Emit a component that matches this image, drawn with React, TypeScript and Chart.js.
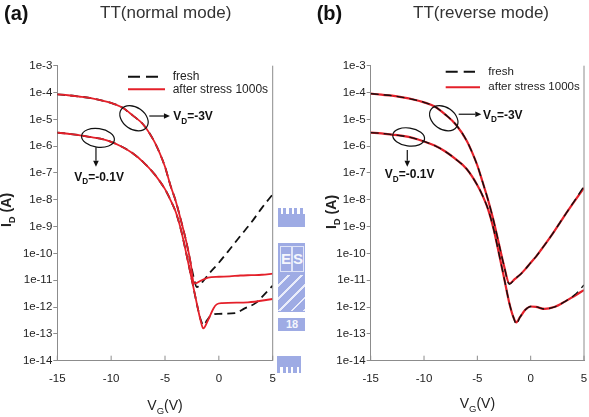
import React, { useEffect, useRef } from 'react';
import { Chart, registerables } from 'chart.js';

Chart.register(...registerables);

const FONT = "'Liberation Sans', Arial, Helvetica, sans-serif";
const RED = '#e4202a';
const DASH = '#111111';
const AXIS = '#8c8c8c';
const TEXT = '#222222';
const LOGO = '#9eabe4';

// ---------- axis ticks ----------
const xTickValues = [-15, -10, -5, 0, 5];
const xTickLabels = ['-15', '-10', '-5', '0', '5'];
const yTickValues = [1e-3, 1e-4, 1e-5, 1e-6, 1e-7, 1e-8, 1e-9, 1e-10, 1e-11, 1e-12, 1e-13, 1e-14];
const yTickLabels = ['1e-3', '1e-4', '1e-5', '1e-6', '1e-7', '1e-8', '1e-9', '1e-10', '1e-11', '1e-12', '1e-13', '1e-14'];

const legendLabels = ['fresh', 'after stress 1000s'];

// ---------- (a) TT normal mode ----------
const normVg3Fresh = [-15, -14, -13, -12, -11, -10, -9, -8, -7, -6, -5.5, -5, -4.5, -4, -3.5, -3, -2.6, -2.3, -2.05, -1.5, -1, 0, 1, 2, 3, 4, 5];
const normId3Fresh = [8.5e-5, 7.9e-5, 7.1e-5, 6.3e-5, 5.2e-5, 4.1e-5, 2.8e-5, 1.4e-5, 6.3e-6, 1.5e-6, 5.6e-7, 1.7e-7, 3.5e-8, 8.9e-9, 1.6e-9, 2.5e-10, 4.0e-11, 1.1e-11, 5.6e-12, 8.9e-12, 1.6e-11, 4.5e-11, 1.4e-10, 4.5e-10, 1.4e-9, 5.0e-9, 1.6e-8];
const normVg3Stress = [-15, -14, -13, -12, -11, -10, -9, -8, -7, -6, -5.5, -5, -4.5, -4, -3.5, -3, -2.6, -2.35, -2.2, -1.6, -1, 0, 1, 2, 3, 4, 5];
const normId3Stress = [8.5e-5, 7.9e-5, 7.1e-5, 6.3e-5, 5.2e-5, 4.1e-5, 2.8e-5, 1.4e-5, 6.3e-6, 1.5e-6, 5.6e-7, 1.7e-7, 3.5e-8, 8.9e-9, 1.6e-9, 2.5e-10, 4.0e-11, 8.3e-12, 7.6e-12, 1.0e-11, 1.26e-11, 1.35e-11, 1.4e-11, 1.5e-11, 1.55e-11, 1.6e-11, 1.75e-11];
const normVg01Fresh = [-15, -14, -13, -12, -11, -10, -9, -8, -7, -6, -5.5, -5, -4.5, -4, -3.5, -3, -2.5, -2, -1.7, -1.4, -1.1, -0.7, 0, 1.5, 2.4, 3.4, 4.3, 5];
const normId01Fresh = [3.2e-6, 2.9e-6, 2.6e-6, 2.2e-6, 1.9e-6, 1.45e-6, 9.5e-7, 5.4e-7, 2.5e-7, 9.3e-8, 5.0e-8, 2.5e-8, 1.0e-8, 3.5e-9, 7.1e-10, 8.9e-11, 1.0e-11, 1.1e-12, 3.5e-13, 2.1e-13, 3.2e-13, 5.0e-13, 5.6e-13, 5.9e-13, 8.9e-13, 1.4e-12, 3.2e-12, 6.3e-12];
const normVg01Stress = [-15, -14, -13, -12, -11, -10, -9, -8, -7, -6, -5.5, -5, -4.5, -4, -3.5, -3, -2.5, -2, -1.7, -1.45, -1.0, -0.5, -0.2, 0.3, 2.7, 5];
const normId01Stress = [3.2e-6, 2.9e-6, 2.6e-6, 2.2e-6, 1.9e-6, 1.45e-6, 9.5e-7, 5.4e-7, 2.5e-7, 9.3e-8, 5.0e-8, 2.5e-8, 1.0e-8, 3.5e-9, 7.1e-10, 8.9e-11, 1.0e-11, 1.1e-12, 3.2e-13, 1.6e-13, 3.3e-13, 8.9e-13, 1.26e-12, 1.4e-12, 1.5e-12, 2.0e-12];

// ---------- (b) TT reverse mode ----------
const revVg3Fresh = [-15, -14, -13, -12, -11, -10, -9, -8, -7, -6, -5.5, -5, -4.5, -4, -3.5, -3, -2.5, -2, -1.5, -1, -0.5, 0, 0.5, 1, 2, 3, 4, 5];
const revId3Fresh = [9.1e-5, 8.3e-5, 7.6e-5, 6.6e-5, 5.5e-5, 4.3e-5, 3.0e-5, 1.5e-5, 6.3e-6, 1.6e-6, 6.0e-7, 1.9e-7, 4.5e-8, 1.0e-8, 1.8e-9, 2.5e-10, 3.5e-11, 7.1e-12, 1.1e-11, 1.6e-11, 2.6e-11, 4.5e-11, 7.6e-11, 1.4e-10, 5.0e-10, 2.0e-9, 7.9e-9, 3.2e-8];
const revVg3Stress = [-15, -14, -13, -12, -11, -10, -9, -8, -7, -6, -5.5, -5, -4.5, -4, -3.5, -3, -2.5, -2, -1.5, -1, -0.5, 0, 0.5, 1, 2, 3, 4, 5];
const revId3Stress = [9.1e-5, 8.3e-5, 7.6e-5, 6.6e-5, 5.5e-5, 4.3e-5, 3.0e-5, 1.5e-5, 6.3e-6, 1.6e-6, 6.0e-7, 1.9e-7, 4.5e-8, 1.0e-8, 1.8e-9, 2.5e-10, 3.5e-11, 7.6e-12, 1.1e-11, 1.6e-11, 2.6e-11, 4.5e-11, 7.6e-11, 1.4e-10, 5.0e-10, 2.0e-9, 7.6e-9, 2.8e-8];
const revVg01Fresh = [-15, -14, -13, -12, -11, -10, -9, -8, -7, -6, -5, -4.5, -4, -3.5, -3, -2.5, -2, -1.6, -1.35, -1, -0.5, 0, 0.5, 1.3, 2.2, 3.2, 4.1, 5];
const revId01Fresh = [3.2e-6, 3.0e-6, 2.7e-6, 2.4e-6, 2.0e-6, 1.5e-6, 1.05e-6, 6.3e-7, 3.2e-7, 1.4e-7, 3.5e-8, 1.4e-8, 4.5e-9, 8.9e-10, 1.1e-10, 1.26e-11, 1.4e-12, 4.0e-13, 2.3e-13, 4.2e-13, 7.9e-13, 1.05e-12, 1.02e-12, 8.5e-13, 1.0e-12, 1.6e-12, 2.8e-12, 6.6e-12];
const revVg01Stress = [-15, -14, -13, -12, -11, -10, -9, -8, -7, -6, -5, -4.5, -4, -3.5, -3, -2.5, -2, -1.6, -1.35, -1, -0.5, 0, 0.5, 1.3, 2.2, 3.2, 4.1, 5];
const revId01Stress = [3.2e-6, 3.0e-6, 2.7e-6, 2.4e-6, 2.0e-6, 1.5e-6, 1.05e-6, 6.3e-7, 3.2e-7, 1.4e-7, 3.5e-8, 1.4e-8, 4.5e-9, 8.9e-10, 1.1e-10, 1.26e-11, 1.4e-12, 4.0e-13, 2.7e-13, 4.2e-13, 7.9e-13, 1.05e-12, 1.02e-12, 8.5e-13, 1.0e-12, 1.6e-12, 2.6e-12, 4.3e-12];

type Part = [string, boolean?];

const VD3: Part[] = [['V'], ['D', true], ['=-3V']];
const VD01: Part[] = [['V'], ['D', true], ['=-0.1V']];
const IDLABEL: Part[] = [['I'], ['D', true], [' (A)']];
const VGLABEL: Part[] = [['V'], ['G', true], ['(V)']];

const pts = (xs: number[], ys: number[]) => xs.map((x, i) => ({ x, y: ys[i] }));

const panels = [
  {
    key: 'a',
    left: 0,
    width: 295,
    yAxisWidth: 57.3,
    padRight: 22.3,
    letter: '(a)', letterX: 4,
    title: 'TT(normal mode)', titleX: 100,
    yLabelX: 6, yLabelY: 210, xLabelY: 405,
    legend: { x: 70.7, dashLen: 30, redLen: 37, y1: 11, y2: 23.6, textX: 115.4, size: 12 },
    redOnTop: true,
    freshWidth: 1.8,
    stressWidth: 1.8,
    series: [
      { vg: normVg3Fresh, id: normId3Fresh, fresh: true },
      { vg: normVg01Fresh, id: normId01Fresh, fresh: true },
      { vg: normVg3Stress, id: normId3Stress, fresh: false },
      { vg: normVg01Stress, id: normId01Stress, fresh: false },
    ],
    ellipses: [
      { x: -7.88, y: 1.1e-5, rx: 15.5, ry: 11, rot: 35 },
      { x: -11.22, y: 2.04e-6, rx: 16.5, ry: 9.3, rot: 8 },
    ],
    arrows: [
      { x1: -6.46, y1: 1.33e-5, x2: -4.54, y2: 1.33e-5 },
      { x1: -11.41, y1: 9.1e-7, x2: -11.41, y2: 1.7e-7 },
    ],
    labels: [
      { x: -4.23, y: 1.33e-5, parts: VD3, align: 'left' },
      { x: -11.12, y: 7.3e-8, parts: VD01, align: 'center' },
    ],
  },
  {
    key: 'b',
    left: 310,
    width: 279,
    yAxisWidth: 60.7,
    padRight: 5,
    letter: '(b)', letterX: 6.7,
    title: 'TT(reverse mode)', titleX: 103,
    yLabelX: 21, yLabelY: 212, xLabelY: 403,
    legend: { x: 75, dashLen: 29.3, redLen: 34.3, y1: 6, y2: 21.6, textX: 117.6, size: 11.5 },
    redOnTop: false,
    freshWidth: 1.4,
    stressWidth: 2.2,
    series: [
      { vg: revVg3Fresh, id: revId3Fresh, fresh: true },
      { vg: revVg01Fresh, id: revId01Fresh, fresh: true },
      { vg: revVg3Stress, id: revId3Stress, fresh: false },
      { vg: revVg01Stress, id: revId01Stress, fresh: false },
    ],
    ellipses: [
      { x: -8.15, y: 1.1e-5, rx: 15.5, ry: 11, rot: 35 },
      { x: -11.44, y: 2.2e-6, rx: 16, ry: 9, rot: 8 },
    ],
    arrows: [
      { x1: -6.75, y1: 1.55e-5, x2: -4.63, y2: 1.55e-5 },
      { x1: -11.57, y1: 7.2e-7, x2: -11.57, y2: 1.7e-7 },
    ],
    labels: [
      { x: -4.47, y: 1.55e-5, parts: VD3, align: 'left' },
      { x: -11.35, y: 9.1e-8, parts: VD01, align: 'center' },
    ],
  },
];

function drawRich(ctx: CanvasRenderingContext2D, parts: Part[], x: number, yMid: number, size: number, weight: string, align: string, color: string) {
  const subSize = size * 0.68;
  const widths = parts.map(([t, sub]) => {
    ctx.font = `${weight} ${sub ? subSize : size}px ${FONT}`;
    return ctx.measureText(t).width;
  });
  const total = widths.reduce((a, b) => a + b, 0);
  let cx = align === 'center' ? x - total / 2 : align === 'right' ? x - total : x;
  const base = yMid + size * 0.36;
  ctx.fillStyle = color;
  ctx.textAlign = 'left';
  ctx.textBaseline = 'alphabetic';
  parts.forEach(([t, sub], i) => {
    ctx.font = `${weight} ${sub ? subSize : size}px ${FONT}`;
    ctx.fillText(t, cx, sub ? base + size * 0.28 : base);
    cx += widths[i];
  });
}

function drawArrow(ctx: CanvasRenderingContext2D, x1: number, y1: number, x2: number, y2: number) {
  const ang = Math.atan2(y2 - y1, x2 - x1);
  const hl = 6, hw = 2.8;
  ctx.beginPath();
  ctx.moveTo(x1, y1);
  ctx.lineTo(x2 - hl * Math.cos(ang), y2 - hl * Math.sin(ang));
  ctx.stroke();
  ctx.beginPath();
  ctx.moveTo(x2, y2);
  ctx.lineTo(x2 - hl * Math.cos(ang) - hw * Math.sin(ang), y2 - hl * Math.sin(ang) + hw * Math.cos(ang));
  ctx.lineTo(x2 - hl * Math.cos(ang) + hw * Math.sin(ang), y2 - hl * Math.sin(ang) - hw * Math.cos(ang));
  ctx.closePath();
  ctx.fill();
}

function ChartPanel({ panel }: { panel: any }) {
  const ref = useRef<HTMLCanvasElement>(null);
  useEffect(() => {
    const canvas = ref.current;
    if (!canvas) return;
    const makeDs = (s: any) => ({
      label: s.fresh ? legendLabels[0] : legendLabels[1],
      data: pts(s.vg, s.id),
      borderColor: s.fresh ? DASH : RED,
      borderWidth: s.fresh ? panel.freshWidth : panel.stressWidth,
      borderDash: s.fresh ? [8, 5] : [],
      pointRadius: 0,
      fill: false,
      cubicInterpolationMode: 'monotone',
      order: (s.fresh ? 1 : 0) ^ (panel.redOnTop ? 0 : 1),
    });
    const decor = {
      id: 'decor',
      afterDraw(chart: any) {
        const { ctx, chartArea: ca, scales } = chart;
        const xs = scales.x, ys = scales.y;
        ctx.save();
        // right border
        ctx.strokeStyle = AXIS;
        ctx.lineWidth = 1;
        ctx.beginPath();
        ctx.moveTo(ca.right, ca.top);
        ctx.lineTo(ca.right, ca.bottom);
        ctx.stroke();
        // inward x ticks
        xs.ticks.forEach((t: any) => {
          const px = xs.getPixelForValue(t.value);
          ctx.beginPath();
          ctx.moveTo(px, ca.bottom);
          ctx.lineTo(px, ca.bottom - 5);
          ctx.stroke();
        });
        // legend
        const lg = panel.legend;
        ctx.lineWidth = 2;
        ctx.strokeStyle = DASH;
        ctx.setLineDash([12, 6]);
        ctx.beginPath();
        ctx.moveTo(ca.left + lg.x, ca.top + lg.y1);
        ctx.lineTo(ca.left + lg.x + lg.dashLen, ca.top + lg.y1);
        ctx.stroke();
        ctx.setLineDash([]);
        ctx.strokeStyle = RED;
        ctx.beginPath();
        ctx.moveTo(ca.left + lg.x, ca.top + lg.y2);
        ctx.lineTo(ca.left + lg.x + lg.redLen, ca.top + lg.y2);
        ctx.stroke();
        ctx.fillStyle = TEXT;
        ctx.font = `${lg.size}px ${FONT}`;
        ctx.textAlign = 'left';
        ctx.textBaseline = 'middle';
        ctx.fillText(legendLabels[0], ca.left + lg.textX, ca.top + lg.y1);
        ctx.fillText(legendLabels[1], ca.left + lg.textX, ca.top + lg.y2);
        // annotations
        ctx.strokeStyle = '#111';
        ctx.fillStyle = '#111';
        ctx.lineWidth = 1.2;
        panel.ellipses.forEach((e: any) => {
          ctx.beginPath();
          ctx.ellipse(xs.getPixelForValue(e.x), ys.getPixelForValue(e.y), e.rx, e.ry, (e.rot * Math.PI) / 180, 0, Math.PI * 2);
          ctx.stroke();
        });
        panel.arrows.forEach((a: any) => {
          drawArrow(ctx, xs.getPixelForValue(a.x1), ys.getPixelForValue(a.y1), xs.getPixelForValue(a.x2), ys.getPixelForValue(a.y2));
        });
        panel.labels.forEach((l: any) => {
          drawRich(ctx, l.parts, xs.getPixelForValue(l.x), ys.getPixelForValue(l.y), 12, 'bold', l.align, '#111');
        });
        // titles
        ctx.fillStyle = '#111';
        ctx.font = `bold 20px ${FONT}`;
        ctx.textAlign = 'left';
        ctx.textBaseline = 'middle';
        ctx.fillText(panel.letter, panel.letterX, 14);
        ctx.fillStyle = '#333';
        ctx.font = `17px ${FONT}`;
        ctx.fillText(panel.title, panel.titleX, 13.5);
        // axis titles
        drawRich(ctx, VGLABEL, (ca.left + ca.right) / 2, panel.xLabelY, 14, 'normal', 'center', '#222');
        ctx.translate(panel.yLabelX, panel.yLabelY);
        ctx.rotate(-Math.PI / 2);
        drawRich(ctx, IDLABEL, 0, 0, 14, 'bold', 'center', '#222');
        ctx.restore();
      },
    };
    const chart = new Chart(canvas, {
      type: 'line',
      data: { datasets: panel.series.map(makeDs) },
      options: {
        responsive: false,
        animation: false,
        devicePixelRatio: 1,
        layout: { padding: { left: 0, top: 65.7, right: panel.padRight, bottom: 0 } },
        plugins: { legend: { display: false }, tooltip: { enabled: false }, title: { display: false } },
        elements: { point: { radius: 0 } },
        scales: {
          x: {
            type: 'linear',
            min: -15,
            max: 5,
            afterBuildTicks: (s: any) => { s.ticks = xTickValues.map((v) => ({ value: v })); },
            afterFit: (s: any) => { s.height = 56.3; },
            ticks: {
              callback: (_v: any, i: number) => xTickLabels[i],
              font: { family: FONT, size: 11.5 },
              color: TEXT,
              padding: 0,
              maxRotation: 0,
              autoSkip: false,
            },
            grid: { display: true, drawOnChartArea: false, drawTicks: true, tickLength: 11, tickColor: 'rgba(0,0,0,0)', color: 'rgba(0,0,0,0)' },
            border: { display: true, color: AXIS, width: 1 },
          },
          y: {
            type: 'logarithmic',
            min: 1e-14,
            max: 1e-3,
            afterBuildTicks: (s: any) => { s.ticks = yTickValues.map((v) => ({ value: v })); },
            afterFit: (s: any) => { s.width = panel.yAxisWidth; },
            ticks: {
              callback: (_v: any, i: number) => yTickLabels[i],
              font: { family: FONT, size: 11.5 },
              color: TEXT,
              padding: 1,
              autoSkip: false,
            },
            grid: { display: true, drawOnChartArea: false, drawTicks: true, tickLength: 4, tickColor: AXIS, color: 'rgba(0,0,0,0)' },
            border: { display: true, color: AXIS, width: 1 },
          },
        },
      } as any,
      plugins: [decor],
    });
    return () => chart.destroy();
  }, [panel]);
  return (
    <canvas
      ref={ref}
      width={panel.width}
      height={417}
      style={{ position: 'absolute', left: panel.left, top: 0, width: panel.width, height: 417, display: 'block' }}
    />
  );
}

function Logo() {
  const box = (s: React.CSSProperties) => ({ position: 'absolute' as const, ...s });
  return (
    <div style={box({ left: 277, top: 205, width: 30, height: 175 })}>
      {/* top crown */}
      <div style={box({ left: 1, top: 3, width: 27, height: 6, background: `repeating-linear-gradient(90deg, ${LOGO} 0 3px, transparent 3px 5.5px)` })} />
      <div style={box({ left: 1, top: 9, width: 27, height: 13, background: LOGO })} />
      {/* main block */}
      <div style={box({ left: 1, top: 38, width: 27, height: 69, background: LOGO })}>
        <div style={box({ left: 2, top: 3, width: 10, height: 24, border: '1px solid #dfe4f7', color: '#f4f6fd', font: `bold 15px ${FONT}`, textAlign: 'center', lineHeight: '24px' })}>E</div>
        <div style={box({ left: 14, top: 3, width: 10, height: 24, border: '1px solid #dfe4f7', color: '#f4f6fd', font: `bold 15px ${FONT}`, textAlign: 'center', lineHeight: '24px' })}>S</div>
        <div style={box({ left: 0, top: 32, width: 27, height: 36, background: `repeating-linear-gradient(135deg, ${LOGO} 0 7px, #e9ecfa 7px 9px)` })} />
      </div>
      {/* number box */}
      <div style={box({ left: 1, top: 113, width: 27, height: 13, background: LOGO, color: '#f4f6fd', font: `bold 11px ${FONT}`, lineHeight: '13px', paddingLeft: 8, boxSizing: 'border-box' })}>18</div>
      {/* bottom crown */}
      <div style={box({ left: 0, top: 151, width: 24, height: 11, background: LOGO })} />
      <div style={box({ left: 0, top: 162, width: 24, height: 6, background: `repeating-linear-gradient(90deg, ${LOGO} 0 3px, transparent 3px 5.5px)` })} />
    </div>
  );
}

export default function App() {
  return (
    <div style={{ position: 'absolute', left: 0, top: 0, width: 589, height: 417, background: '#fff', overflow: 'hidden' }}>
      <Logo />
      {panels.map((p) => (
        <ChartPanel key={p.key} panel={p} />
      ))}
    </div>
  );
}
